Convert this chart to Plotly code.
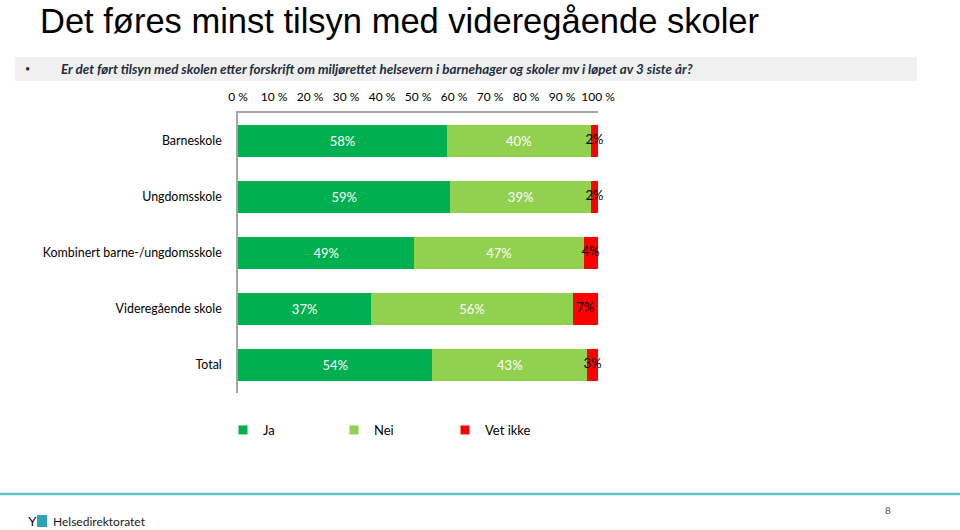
import plotly.graph_objects as go

W, H = 960, 530

categories = ["Barneskole", "Ungdomsskole", "Kombinert barne-/ungdomsskole",
              "Videregående skole", "Total"]
ja = [58, 59, 49, 37, 54]
nei = [40, 39, 47, 56, 43]
vet_ikke = [2, 2, 4, 7, 3]
series_names = ["Ja", "Nei", "Vet ikke"]
tick_vals = [0, 10, 20, 30, 40, 50, 60, 70, 80, 90, 100]
tick_text = ["0 %", "10 %", "20 %", "30 %", "40 %", "50 %", "60 %", "70 %", "80 %", "90 %", "100 %"]

title = "Det føres minst tilsyn med videregående skoler"
question = "Er det ført tilsyn med skolen etter forskrift om miljørettet helsevern i barnehager og skoler mv i løpet av 3 siste år?"

LABEL_FONT = "Lato"

def px_x(p):
    return p / W

def px_y(p):
    return 1 - p / H

fig = go.Figure()
colors = ["#00b050", "#92d050", "#ff0000"]
text_colors = ["white", "white", "black"]
series = [ja, nei, vet_ikke]
for i, (name, vals, c, tc) in enumerate(zip(series_names, series, colors, text_colors)):
    fig.add_trace(go.Bar(
        name=name, y=categories, x=vals, orientation="h",
        marker=dict(color=c, line=dict(width=0)),
        text=[f"{v}%" for v in vals],
        textposition="inside" if i < 2 else "none",
        insidetextanchor="middle",
        textfont=dict(family=LABEL_FONT, size=13, color=tc),
        hoverinfo="skip", showlegend=False,
    ))

# labels for the narrow "Vet ikke" segments, centred on the segment (may overflow it)
red_centers = [a + b + c / 2 for a, b, c in zip(ja, nei, vet_ikke)]
fig.add_trace(go.Scatter(
    x=red_centers, y=categories, mode="text",
    text=[f"{v}%" for v in vet_ikke], textposition="middle center",
    textfont=dict(family=LABEL_FONT, size=13, color="black"),
    hoverinfo="skip", showlegend=False, cliponaxis=False,
))

# legend entries with small square symbols
for name, c in zip(series_names, colors):
    fig.add_trace(go.Scatter(
        x=[None], y=[None], mode="markers", name=name,
        marker=dict(symbol="square", size=9, color=c),
        hoverinfo="skip",
    ))

fig.update_layout(
    width=W, height=H, autosize=False, barmode="stack", bargap=0.43,
    margin=dict(l=0, r=0, t=0, b=0, pad=0, autoexpand=False),
    paper_bgcolor="white", plot_bgcolor="white",
    showlegend=True,
    legend=dict(orientation="h", x=px_x(223), y=px_y(430), yanchor="middle", xanchor="left",
                xref="container", yref="container",
                font=dict(family=LABEL_FONT, size=13, color="#000000"),
                entrywidth=66, traceorder="normal", itemwidth=30),
    xaxis=dict(domain=[px_x(238), px_x(598)], range=[0, 100], side="top", automargin=False,
               tickvals=tick_vals, ticktext=tick_text, showgrid=False, zeroline=False,
               showline=True, linecolor="#a6a6a6", linewidth=1.5, ticks="",
               ticklabelstandoff=5,
               tickfont=dict(family=LABEL_FONT, size=12, color="#000000"), fixedrange=True),
    yaxis=dict(domain=[px_y(393), px_y(113)], autorange="reversed", showgrid=False, automargin=False,
               showline=True, linecolor="#a6a6a6", linewidth=1.5, ticks="",
               ticklabelstandoff=12,
               tickfont=dict(family=LABEL_FONT, size=12.4, color="#000000"), fixedrange=True),
    font=dict(family=LABEL_FONT),
)

shapes = [
    dict(type="rect", xref="paper", yref="paper", x0=px_x(15), x1=px_x(917),
         y0=px_y(81), y1=px_y(57), fillcolor="#f0f0f0", line=dict(width=0), layer="below"),
    dict(type="line", xref="paper", yref="paper", x0=0, x1=1, y0=px_y(494), y1=px_y(494),
         line=dict(color="#5fc4c6", width=2.5)),
    dict(type="rect", xref="paper", yref="paper", x0=px_x(37), x1=px_x(47),
         y0=px_y(527), y1=px_y(515), fillcolor="#2ba6b5", line=dict(width=0)),
]
fig.update_layout(shapes=shapes)

ann = [
    dict(text=title, x=px_x(38), y=px_y(21), xanchor="left", yanchor="middle",
         font=dict(family="Liberation Sans", size=34.5, color="#000000")),
    dict(text="•", x=px_x(27), y=px_y(69), xanchor="center", yanchor="middle",
         font=dict(family=LABEL_FONT, size=9, color="#1f2d3d")),
    dict(text=f"<b><i>{question}</i></b>", x=px_x(59), y=px_y(69), xanchor="left", yanchor="middle",
         font=dict(family=LABEL_FONT, size=13.4, color="#1f2d3d")),
    dict(text="Y", x=px_x(32), y=px_y(521), xanchor="center", yanchor="middle",
         font=dict(family="Liberation Sans", size=13, color="#000000")),
    dict(text="Helsedirektoratet", x=px_x(51), y=px_y(521), xanchor="left", yanchor="middle",
         font=dict(family=LABEL_FONT, size=12, color="#1a1a1a")),
    dict(text="8", x=px_x(888), y=px_y(510), xanchor="center", yanchor="middle",
         font=dict(family=LABEL_FONT, size=10, color="#555555")),
]
for a in ann:
    a.update(xref="paper", yref="paper", showarrow=False)
fig.update_layout(annotations=ann)

fig.write_html("out.html", config={"displayModeBar": False},
               post_script="document.body.style.margin='0';document.body.style.overflow='hidden';")
